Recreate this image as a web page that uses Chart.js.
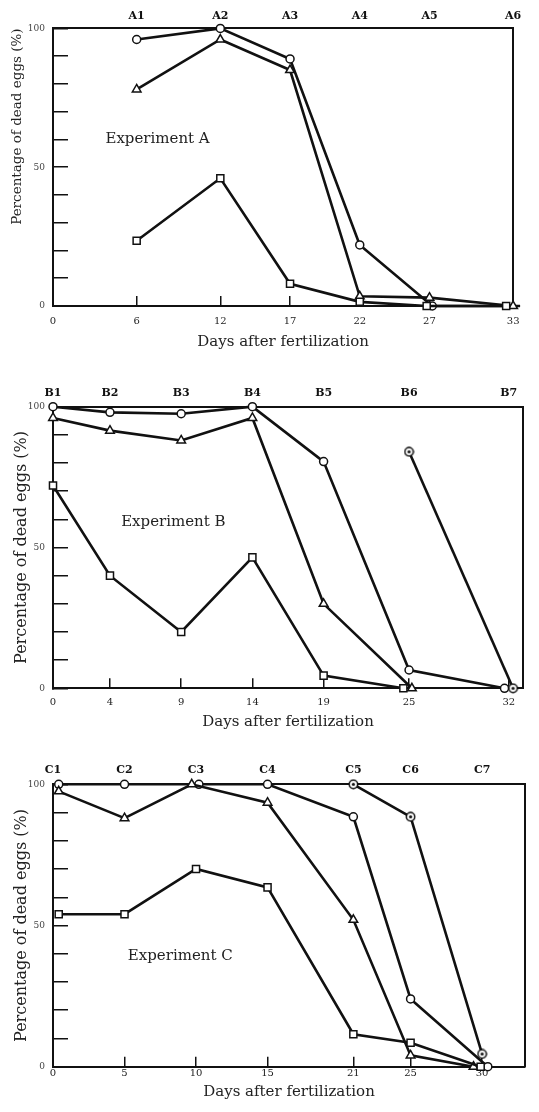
<!DOCTYPE html>
<html>
<head>
<meta charset="utf-8">
<script src="https://cdn.jsdelivr.net/npm/chart.js@4.4.1/dist/chart.umd.min.js"></script>
<style>
  body { margin: 0; background: #fff; }
  canvas { position: absolute; left: 0; }
</style>
</head>
<body>
<canvas id="chartA" width="539" height="351" style="top:0px"></canvas>
<canvas id="chartB" width="539" height="380" style="top:351px"></canvas>
<canvas id="chartC" width="539" height="370" style="top:731px"></canvas>
<script>
// ---- Experiment A ----
const aDays = [0, 6, 12, 17, 22, 27, 33];
const aTopDays = [6, 12, 17, 22, 27, 33];
const aTopLabels = ["A1", "A2", "A3", "A4", "A5", "A6"];
const aCircleX = [6, 12, 17, 22, 27.2, 33.5];
const aCircle = [96, 100, 89, 22, 0, 0];
const aTriX = [6, 12, 17, 22, 27, 33];
const aTri = [78, 96, 85, 3.5, 3, 0];
const aSquareX = [6, 12, 17, 22, 26.8, 32.5];
const aSquare = [23.5, 46, 8, 1.5, 0, 0];

// ---- Experiment B ----
const bDays = [0, 4, 9, 14, 19, 25, 32];
const bTopLabels = ["B1", "B2", "B3", "B4", "B5", "B6", "B7"];
const bCircleX = [0, 4, 9, 14, 19, 25, 31.7];
const bCircle = [100, 98, 97.5, 100, 80.5, 6.5, 0];
const bTriX = [0, 4, 9, 14, 19, 25.2];
const bTri = [96, 91.5, 88, 96, 30, 0];
const bSquareX = [0, 4, 9, 14, 19, 24.6];
const bSquare = [72, 40, 20, 46.5, 4.5, 0];
const bDotX = [25, 32.3];
const bDot = [84, 0];

// ---- Experiment C ----
const cDays = [0, 5, 10, 15, 21, 25, 30];
const cTopLabels = ["C1", "C2", "C3", "C4", "C5", "C6", "C7"];
const cCircleX = [0.4, 5, 10.2, 15, 21, 25, 30.4];
const cCircle = [100, 100, 100, 100, 88.5, 24, 0];
const cTriX = [0.4, 5, 9.7, 15, 21, 25, 29.4];
const cTri = [97.5, 88, 100, 93.5, 52, 4, 0];
const cSquareX = [0.4, 5, 10, 15, 21, 25, 29.9];
const cSquare = [54, 54, 70, 63.5, 11.5, 8.5, 0];
const cDotX = [21, 25, 30];
const cDot = [100, 88.5, 4.5];

const serif = '"DejaVu Serif", "Liberation Serif", serif';

// circle with a dot in the middle
function dotCircle() {
  const c = document.createElement("canvas");
  c.width = 11;
  c.height = 11;
  const g = c.getContext("2d");
  g.fillStyle = "#fff";
  g.strokeStyle = "#111";
  g.lineWidth = 1.5;
  g.beginPath();
  g.arc(5.5, 5.5, 4.2, 0, Math.PI * 2);
  g.fill();
  g.stroke();
  g.fillStyle = "#111";
  g.beginPath();
  g.arc(5.5, 5.5, 1.6, 0, Math.PI * 2);
  g.fill();
  return c;
}

const pts = (xs, ys) => xs.map((x, i) => ({ x: x, y: ys[i] }));

const series = (xs, ys, style, r) => ({
  data: pts(xs, ys),
  borderColor: "#111",
  borderWidth: 2.6,
  pointStyle: style,
  pointRadius: r,
  pointBackgroundColor: "#fff",
  pointBorderColor: "#111",
  pointBorderWidth: 1.5,
  clip: false,
  tension: 0,
});

const notePlugin = {
  id: "note",
  afterDatasetsDraw(chart, args, opts) {
    const { ctx, scales } = chart;
    ctx.save();
    ctx.font = "15px " + serif;
    ctx.fillStyle = "#222";
    ctx.textAlign = "center";
    ctx.textBaseline = "middle";
    ctx.fillText(opts.text, scales.x.getPixelForValue(opts.x), scales.y.getPixelForValue(opts.y));
    ctx.restore();
  },
};

function makePanel(canvas, p) {
  return new Chart(canvas, {
    type: "line",
    data: { datasets: p.datasets },
    plugins: [notePlugin],
    options: {
      responsive: false,
      animation: false,
      layout: { padding: 0 },
      plugins: {
        legend: { display: false },
        tooltip: { enabled: false },
        note: p.note,
      },
      scales: {
        x: {
          type: "linear",
          position: "bottom",
          min: 0,
          max: 33,
          afterBuildTicks: (s) => { s.ticks = p.days.map((v) => ({ value: v })); },
          afterFit: (s) => { s.height = p.bottomH; },
          ticks: { color: "#222", font: { family: serif, size: 10 }, padding: p.tickPad, maxRotation: 0, autoSkip: false },
          grid: { drawOnChartArea: false, drawTicks: true, tickLength: -10, color: "#111", lineWidth: 1.5 },
          border: { color: "#111", width: 2 },
          title: { display: true, text: "Days after fertilization", color: "#222", font: { family: serif, size: 15 }, padding: 0 },
        },
        xTop: {
          type: "linear",
          position: "top",
          min: 0,
          max: 33,
          afterBuildTicks: (s) => { s.ticks = p.topDays.map((v) => ({ value: v })); },
          afterFit: (s) => { s.height = p.topH; },
          ticks: {
            color: "#111",
            font: { family: serif, size: 11, weight: "bold" },
            padding: p.topPad,
            maxRotation: 0,
            autoSkip: false,
            callback: (v) => p.topLabels[p.topDays.indexOf(v)],
          },
          grid: { display: false, drawTicks: false },
          border: { color: "#111", width: 2 },
        },
        y: {
          position: "left",
          min: 0,
          max: 100,
          afterFit: (s) => { s.width = 53; },
          ticks: {
            stepSize: 10,
            color: "#444",
            font: { family: serif, size: 9 },
            padding: 23,
            callback: (v) => (v % 50 === 0 ? v : ""),
          },
          grid: { drawOnChartArea: false, drawTicks: true, tickLength: -15, color: "#111", lineWidth: 1.5 },
          border: { color: "#111", width: 2 },
          title: {
            display: true,
            text: "Percentage of dead eggs (%)",
            color: "#222",
            align: p.yAlign,
            font: { family: serif, size: p.ySize },
            padding: { top: p.yPad, bottom: 0 },
          },
        },
        yRight: {
          position: "right",
          min: 0,
          max: 100,
          afterFit: (s) => { s.width = p.rightW; },
          ticks: { display: false },
          grid: { display: false, drawTicks: false },
          border: { color: "#111", width: 2 },
        },
      },
    },
  });
}

const ring = dotCircle();

makePanel(document.getElementById("chartA"), {
  days: aDays,
  topDays: aTopDays,
  topLabels: aTopLabels,
  topH: 25,
  topPad: 5.7,
  bottomH: 45,
  tickPad: 19.5,
  rightW: 18,
  yAlign: "end",
  ySize: 13.5,
  yPad: 9.5,
  note: { text: "Experiment A", x: 7.5, y: 60 },
  datasets: [
    series(aSquareX, aSquare, "rect", 5),
    series(aTriX, aTri, "triangle", 5),
    series(aCircleX, aCircle, "circle", 4),
  ],
});

makePanel(document.getElementById("chartB"), {
  days: bDays,
  topDays: bDays,
  topLabels: bTopLabels,
  topH: 55.7,
  topPad: 7.1,
  bottomH: 42.7,
  tickPad: 18.5,
  rightW: 16,
  yAlign: "center",
  ySize: 16,
  yPad: 12,
  note: { text: "Experiment B", x: 8.45, y: 59 },
  datasets: [
    series(bSquareX, bSquare, "rect", 5),
    series(bTriX, bTri, "triangle", 5),
    series(bCircleX, bCircle, "circle", 4),
    series(bDotX, bDot, ring, 4),
  ],
});

makePanel(document.getElementById("chartC"), {
  days: cDays,
  topDays: cDays,
  topLabels: cTopLabels,
  topH: 53.3,
  topPad: 7.7,
  bottomH: 34.3,
  tickPad: 10.6,
  rightW: 14,
  yAlign: "center",
  ySize: 16,
  yPad: 12,
  note: { text: "Experiment C", x: 8.9, y: 39.3 },
  datasets: [
    series(cSquareX, cSquare, "rect", 5),
    series(cTriX, cTri, "triangle", 5),
    series(cCircleX, cCircle, "circle", 4),
    series(cDotX, cDot, ring, 4),
  ],
});
</script>
</body>
</html>
